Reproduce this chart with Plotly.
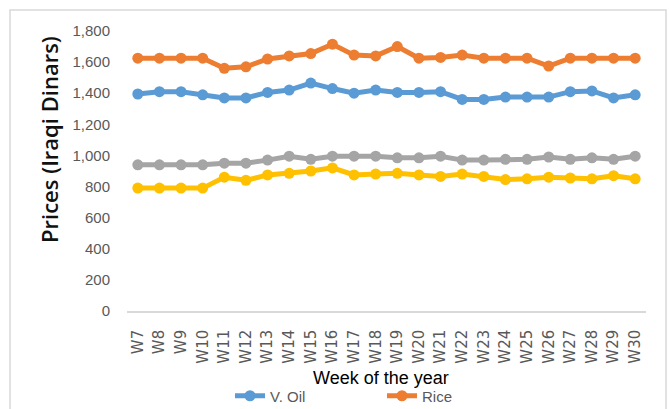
import plotly.graph_objects as go

weeks = ["W7", "W8", "W9", "W10", "W11", "W12", "W13", "W14", "W15", "W16", "W17", "W18",
         "W19", "W20", "W21", "W22", "W23", "W24", "W25", "W26", "W27", "W28", "W29", "W30"]

v_oil = [1395, 1410, 1410, 1390, 1370, 1370, 1405, 1420, 1465, 1430, 1400, 1420,
         1405, 1405, 1410, 1360, 1360, 1375, 1375, 1375, 1410, 1415, 1370, 1390]
rice = [1625, 1625, 1625, 1625, 1560, 1570, 1620, 1640, 1655, 1715, 1645, 1640,
        1700, 1625, 1630, 1645, 1625, 1625, 1625, 1575, 1625, 1625, 1625, 1625]
series3 = [940, 940, 940, 940, 950, 950, 970, 995, 975, 995, 995, 995,
           985, 985, 995, 970, 970, 975, 975, 990, 975, 985, 975, 995]
series4 = [790, 790, 790, 790, 860, 840, 875, 885, 900, 920, 875, 880,
           885, 875, 865, 880, 865, 845, 850, 860, 855, 850, 870, 850]

series = [
    ("V. Oil", v_oil, "#5B9BD5", True),
    ("Rice", rice, "#ED7D31", True),
    ("Sugar", series3, "#A5A5A5", False),
    ("Flour", series4, "#FFC000", False),
]

fig = go.Figure()
for name, vals, color, show in series:
    fig.add_trace(go.Scatter(
        x=weeks, y=vals, name=name, mode="lines+markers",
        line=dict(color=color, width=5),
        marker=dict(color=color, size=11),
        showlegend=show,
    ))

L, R, T, B = 127, 23, 31, 98
W, H = 669, 409
pw, ph = W - L - R, H - T - B

def px_x(x):
    return (x - L) / pw

def px_y(y):
    return (H - B - y) / ph

fig.update_layout(
    width=W, height=H,
    margin=dict(l=L, r=R, t=T, b=B, autoexpand=False),
    paper_bgcolor="white", plot_bgcolor="white",
    font=dict(family="Liberation Sans", color="#595959"),
    xaxis=dict(
        type="category", range=[-0.5, 23.5],
        showline=True, linecolor="#d9d9d9", linewidth=1.5,
        showgrid=False, zeroline=False, ticks="",
        tickangle=-90, ticklabelstandoff=11,
        tickfont=dict(family="DejaVu Sans", size=15, color="#595959"),
    ),
    yaxis=dict(
        range=[0, 1800], dtick=200, tickformat=",",
        showline=False, showgrid=False, zeroline=False, ticks="",
        ticklabelstandoff=16,
        tickfont=dict(family="Liberation Sans", size=15, color="#595959"),
    ),
    showlegend=True,
    legend=dict(
        orientation="h", x=px_x(230), xanchor="left", y=px_y(396), yanchor="middle",
        font=dict(family="Liberation Sans", size=15, color="#595959"),
        entrywidth=107, bgcolor="rgba(0,0,0,0)",
    ),
    annotations=[
        dict(text="Week of the year", xref="paper", yref="paper",
             x=px_x(381), y=px_y(378), xanchor="center", yanchor="middle",
             showarrow=False,
             font=dict(family="Liberation Sans", size=18, color="#000000")),
        dict(text="Prices (Iraqi Dinars)", xref="paper", yref="paper",
             x=px_x(49), y=px_y(140), xanchor="center", yanchor="middle",
             textangle=-90, showarrow=False,
             font=dict(family="Open Sans", size=22, color="#111111", weight=600)),
    ],
    shapes=[
        dict(type="rect", xref="paper", yref="paper",
             x0=px_x(10), x1=px_x(666), y0=px_y(420), y1=px_y(10),
             line=dict(color="#d9d9d9", width=1.5), fillcolor="rgba(0,0,0,0)",
             layer="below"),
    ],
)

fig.write_html(
    "out.html",
    config={"displayModeBar": False},
    post_script="document.body.style.margin='0';document.body.style.overflow='hidden';",
)
